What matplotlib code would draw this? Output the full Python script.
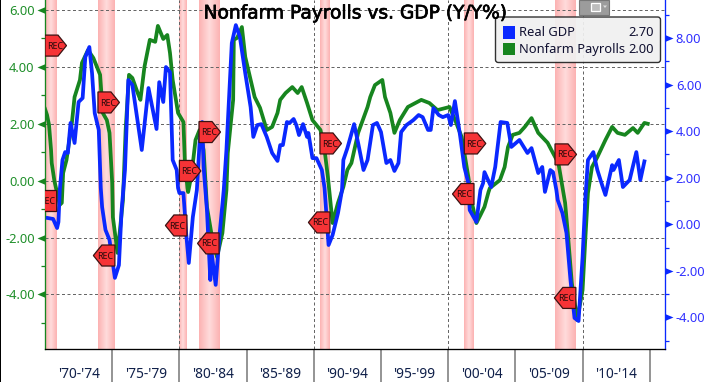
import numpy as np
import matplotlib
matplotlib.use("Agg")
import matplotlib.pyplot as plt
import matplotlib.patheffects as pe
from matplotlib.colors import LinearSegmentedColormap
from matplotlib.patches import Polygon, Rectangle, FancyBboxPatch
from matplotlib.path import Path
from matplotlib.transforms import ScaledTranslation

plt.rcParams['font.family'] = ['Noto Sans', 'DejaVu Sans']

gdp_years = [1970.2,1970.6,1970.9,1971.0,1971.1,1971.3,1971.5,1971.7,1971.9,1972.2,1972.5,1972.8,1973.0,1973.3,1973.5,1973.7,1974.0,1974.15,1974.25,1974.5,1974.8,1975.2,1975.5,1975.7,1975.95,1976.2,1976.5,1977.2,1977.7,1978.3,1978.5,1978.8,1979.0,1979.3,1979.5,1979.8,1979.9,1980.0,1980.3,1980.5,1980.7,1981.0,1981.3,1981.5,1981.7,1981.8,1982.05,1982.3,1982.4,1982.7,1983.0,1983.3,1983.5,1983.9,1984.2,1984.5,1984.9,1985.3,1985.5,1985.8,1986.1,1986.5,1986.9,1987.3,1987.5,1987.7,1988.0,1988.2,1988.5,1988.7,1988.9,1989.2,1989.5,1989.6,1989.9,1990.2,1990.6,1990.8,1991.1,1991.4,1991.8,1992.1,1992.2,1992.5,1993.0,1993.3,1993.7,1994.0,1994.4,1994.7,1995.0,1995.4,1995.7,1996.0,1996.3,1996.5,1996.9,1997.4,1997.8,1998.1,1998.5,1998.7,1998.9,1999.3,1999.6,2000.0,2000.2,2000.5,2000.9,2001.2,2001.5,2001.6,2002.1,2002.4,2002.6,2002.7,2003.2,2003.5,2003.9,2004.4,2004.7,2005.3,2005.9,2006.2,2006.7,2007.0,2007.2,2007.6,2007.8,2008.05,2008.15,2008.5,2008.8,2009.1,2009.4,2009.7,2010.0,2010.2,2010.4,2010.8,2011.1,2011.5,2011.7,2012.2,2012.3,2012.7,2013.0,2013.5,2014.0,2014.3,2014.6]
gdp_values = [0.27,0.23,-0.16,0.10,1.47,2.76,3.10,3.06,4.35,3.49,5.25,5.42,7.18,7.61,6.49,4.77,4.05,1.56,0.74,-0.24,-0.67,-2.30,-1.75,0.61,2.33,6.19,5.98,3.19,5.85,4.09,6.10,5.25,6.75,6.53,2.76,2.33,1.56,1.34,1.34,-0.37,-1.66,0.31,1.47,3.49,4.39,2.46,0.61,-2.39,-1.23,-2.60,-0.37,1.47,3.19,7.78,8.55,8.04,6.49,5.03,3.75,4.26,4.30,3.75,3.06,2.72,3.40,3.40,4.39,4.35,4.52,4.26,3.83,4.30,3.75,3.92,2.84,2.84,2.33,1.56,-0.89,-0.46,0.48,1.47,2.76,3.27,4.30,3.49,2.33,2.76,4.26,4.35,3.96,2.63,2.76,2.29,2.63,3.96,4.26,4.47,4.69,4.60,4.05,4.05,4.99,4.69,4.60,4.69,4.26,5.29,3.75,2.46,1.77,0.61,0.10,1.47,1.77,2.24,1.60,2.46,4.39,4.35,3.32,3.62,3.06,3.27,2.20,2.46,1.39,2.33,2.24,1.47,1.04,0.48,-0.37,-2.39,-4.02,-4.15,-1.40,1.04,2.76,3.10,2.33,1.60,1.26,2.54,2.33,2.76,1.60,1.90,3.10,1.90,2.70]

nfp_years = [1970.0,1970.15,1970.3,1970.45,1970.5,1970.7,1971.1,1971.25,1971.35,1971.6,1972.0,1972.2,1972.6,1972.75,1973.2,1973.6,1973.9,1974.1,1974.3,1974.6,1974.8,1975.0,1975.05,1975.4,1975.6,1975.8,1976.0,1976.25,1976.5,1976.9,1977.1,1977.4,1977.8,1978.2,1978.4,1978.8,1979.1,1979.3,1979.5,1979.9,1980.3,1980.4,1980.6,1980.65,1980.9,1981.2,1981.5,1981.8,1982.05,1982.4,1982.8,1983.2,1983.5,1983.6,1984.0,1984.05,1984.3,1984.65,1984.9,1985.25,1985.6,1986.0,1986.5,1986.9,1987.3,1987.5,1987.9,1988.4,1988.8,1989.1,1989.5,1989.9,1990.5,1990.8,1991.05,1991.4,1991.8,1992.2,1992.5,1992.8,1993.3,1994.0,1994.2,1994.55,1995.1,1995.3,1995.7,1996.0,1996.4,1997.0,1998.0,1998.6,1999.2,2000.1,2000.6,2001.0,2001.25,2001.5,2001.8,2002.1,2002.4,2002.7,2003.0,2003.1,2003.85,2004.2,2004.45,2004.8,2005.3,2005.7,2006.2,2006.7,2007.4,2007.8,2008.2,2008.5,2008.7,2008.9,2009.2,2009.6,2010.0,2010.2,2010.4,2010.7,2011.1,2011.7,2012.2,2012.6,2013.15,2013.75,2014.1,2014.6,2014.85]
nfp_values = [2.52,2.31,1.96,1.08,0.62,-0.01,-0.85,-0.78,0.27,0.73,2.03,2.94,3.54,4.14,4.59,4.31,3.96,3.72,2.38,2.13,1.68,-0.08,-1.28,-2.54,-1.63,-0.68,1.78,3.72,3.61,3.08,2.84,4.00,4.95,4.88,5.44,4.98,5.12,4.49,3.54,2.38,2.06,0.73,-0.26,-0.40,0.20,1.43,1.78,1.08,-0.92,-1.91,-2.68,-1.84,-0.33,0.97,2.84,4.95,5.02,5.40,4.35,3.65,2.94,2.56,1.78,1.89,2.38,2.84,3.08,3.29,3.08,3.29,2.73,2.13,1.78,1.08,0.13,-1.49,-0.78,-0.22,0.38,0.62,1.68,2.59,2.94,3.36,3.54,2.94,2.38,1.68,2.13,2.59,2.84,2.73,2.48,2.59,2.03,1.54,0.83,0.13,-0.85,-1.49,-1.21,-0.92,-0.40,-0.26,0.02,0.48,1.18,1.61,1.68,1.89,2.20,1.68,1.33,0.97,0.62,-0.22,-0.78,-1.84,-3.60,-4.90,-3.84,-2.08,-0.43,0.48,0.83,1.43,1.89,1.68,1.61,1.85,1.68,2.03,2.00]

recessions = [(1970.0,1970.87),(1973.94,1975.2),(1980.0,1980.56),(1981.46,1982.95),(1990.46,1991.2),(2001.2,2001.92),(2007.95,2009.5)]
rec_start_levels = [7.67,5.23,2.29,3.96,3.47,3.47,3.00]
rec_end_levels = [1.00,-1.34,-0.05,-0.82,0.08,1.30,-3.16]

left_ticks = [6,4,2,0,-2,-4]
left_minor = [5,3,1,-1,-3,-5]
right_ticks = [8,6,4,2,0,-2,-4]
right_minor = [9,7,5,3,1,-1,-3,-5]
year_ticks = list(range(1975,2020,5))
grid_years = [1980,1990,2000,2010]
period_centers = [1972.5,1977.5,1982.5,1987.5,1992.5,1997.5,2002.5,2007.5,2012.5]
period_labels = ["'70-'74","'75-'79","'80-'84","'85-'89","'90-'94","'95-'99","'00-'04","'05-'09","'10-'14"]
series_names = ["Real GDP","Nonfarm Payrolls"]
series_last = ["2.70","2.00"]
title_text = "Nonfarm Payrolls vs. GDP (Y/Y%)"

W, H = 708, 382
BLUE = "#0a28ff"; GREEN = "#17851f"; TXT_G = "#1f8f2a"; TXT_B = "#3030ff"

fig = plt.figure(figsize=(W/100, H/100), dpi=100, facecolor="white")
ax = fig.add_axes([45/W, 33/H, 620.5/W, 349/H])
ax2 = ax.twinx()
xlim = (1970, 2016.17)
ax.set_xlim(xlim)
ax.set_ylim(-5.916, 6.35)
ax2.set_ylim(-5.352, 9.627)
ax2.set_xlim(xlim)

# recession bands
cmap = LinearSegmentedColormap.from_list("band", ["#fcb2b2", "#ffdcdc", "#fcb2b2"])
grad = np.linspace(0, 1, 64).reshape(1, -1)
for a, b in recessions:
    ax.imshow(grad, extent=(a, b, -5.916, 6.35), aspect="auto", cmap=cmap, zorder=1)
ax.set_xlim(xlim); ax.set_ylim(-5.916, 6.35)

# grid
for v in left_ticks:
    ax.axhline(v, color="#666666", lw=0.72, ls=(0, (3, 2.5)), zorder=2)
for y in grid_years:
    ax.axvline(y, color="#666666", lw=0.72, ls=(0, (3, 2.5)), zorder=2)

ax.plot(nfp_years, nfp_values, color=GREEN, lw=2.7, zorder=3, solid_joinstyle="round")
ax2.plot(gdp_years, gdp_values, color=BLUE, lw=2.7, zorder=3, solid_joinstyle="round")

# REC markers (outline sized in pixels at 100 dpi)
def rec_marker(x, y, direction):
    d = direction
    pts = np.array([(0,-10.5),(d*13,-10.5),(d*21.5,0),(d*13,10.5),(0,10.5)]) / 100
    tr = fig.dpi_scale_trans + ScaledTranslation(x, y, ax2.transData)
    ax2.add_patch(Polygon(pts, closed=True, transform=tr, facecolor="#f63336",
                          edgecolor="#3a1212", lw=0.9, zorder=5))
    t = ax2.annotate("REC", xy=(x, y), xytext=(d*10.0*0.72, -0.4), textcoords="offset points",
                     ha="center", va="center", fontsize=6.4, color="#2a0a0a", zorder=6,
                     annotation_clip=False)
    t.set_clip_path(ax2.patch)

for (a, b), s, e in zip(recessions, rec_start_levels, rec_end_levels):
    rec_marker(a, s, 1)
    rec_marker(b, e, -1)

# spines
for a in (ax, ax2):
    a.spines["top"].set_visible(False)
ax2.spines["left"].set_color(GREEN); ax2.spines["left"].set_linewidth(0.95)
ax2.spines["right"].set_color(BLUE); ax2.spines["right"].set_linewidth(0.95)
ax2.spines["bottom"].set_color("black"); ax2.spines["bottom"].set_linewidth(0.95)
ax.spines["left"].set_visible(False); ax.spines["right"].set_visible(False)
ax.spines["bottom"].set_visible(False)

# y ticks
left_tri = Path([(-1, 0), (0, 0.42), (0, -0.42), (-1, 0)], closed=True)
right_tri = Path([(1, 0), (0, 0.42), (0, -0.42), (1, 0)], closed=True)
ax.set_yticks(left_ticks, [f"{v:.2f}" for v in left_ticks], fontsize=9.3, color=TXT_G)
ax.set_yticks(left_minor, minor=True)
ax.tick_params(axis="y", which="major", length=0, pad=7.4)
ax.tick_params(axis="y", which="minor", length=3.2, width=0.9, color=GREEN, left=True)
ax.plot(np.zeros(len(left_ticks)), left_ticks, transform=ax.get_yaxis_transform(), marker=left_tri,
        ms=11.5, color=GREEN, ls="", clip_on=False, zorder=7, mew=0)
ax2.set_yticks(right_ticks, [f"{v:.2f}" for v in right_ticks], fontsize=9.3, color=TXT_B)
ax2.set_yticks(right_minor, minor=True)
ax2.tick_params(axis="y", which="major", length=0, pad=7.4)
ax2.tick_params(axis="y", which="minor", length=3.2, width=0.9, color=BLUE, right=True)
ax2.plot(np.ones(len(right_ticks)), right_ticks, transform=ax2.get_yaxis_transform(), marker=right_tri,
         ms=11.5, color=BLUE, ls="", clip_on=False, zorder=7, mew=0)

# x ticks
ax.set_xticks(year_ticks, [""]*len(year_ticks))
ax.tick_params(axis="x", which="major", length=24, width=1.1, color="#777777")
ax.set_xticks(period_centers, period_labels, minor=True, fontsize=9.9, color="#10204a")
ax.tick_params(axis="x", which="minor", length=0, pad=12.6)

def fx(p): return p / W
def fy(p): return 1 - p / H

ttl = fig.text(fx(355.5), fy(13), title_text, ha="center", va="center", fontsize=13.4,
               family="DejaVu Sans", color="black", zorder=8)
ttl.set_path_effects([pe.withStroke(linewidth=0.5, foreground="black")])

# legend
fig.add_artist(FancyBboxPatch((495.5/W, fy(62.5)), 165/W, 45.5/H, boxstyle="round,pad=0,rounding_size=0.004",
                              transform=fig.transFigure, facecolor="#f0f0f0", alpha=0.93,
                              edgecolor="#222222", lw=1, zorder=8, mutation_aspect=1.8))
for name, val, col, yy in zip(series_names, series_last, [BLUE, GREEN], [32.5, 49]):
    fig.add_artist(Rectangle((503/W, fy(yy+6)), 12/W, 12/H, transform=fig.transFigure, facecolor=col,
                             edgecolor="none", zorder=9))
    fig.text(fx(519), fy(yy+0.5), name, ha="left", va="center", fontsize=9.3, color="#101030", zorder=9)
    fig.text(fx(654), fy(yy+0.5), val, ha="right", va="center", fontsize=9.3, color="#101030", zorder=9)

# chart icon at top
fig.add_artist(Rectangle((579/W, fy(14.5)), 30/W, 14.5/H, transform=fig.transFigure, facecolor="#9c9c9c",
                         edgecolor="#777777", lw=0.8, zorder=9))
fig.add_artist(Rectangle((591/W, fy(11)), 9/W, 8/H, transform=fig.transFigure, facecolor="#bdbdbd",
                         edgecolor="white", lw=0.9, zorder=10))
fig.add_artist(Polygon([(603/W, fy(5.5)), (607/W, fy(5.5)), (605/W, fy(8))], closed=True,
                       transform=fig.transFigure, facecolor="#dddddd", edgecolor="none", zorder=10))
# black edge at left of the picture
fig.add_artist(Rectangle((0, 0), 1.2/W, 1, transform=fig.transFigure, facecolor="black", edgecolor="none", zorder=10))

fig.savefig("out.png", dpi=100)
